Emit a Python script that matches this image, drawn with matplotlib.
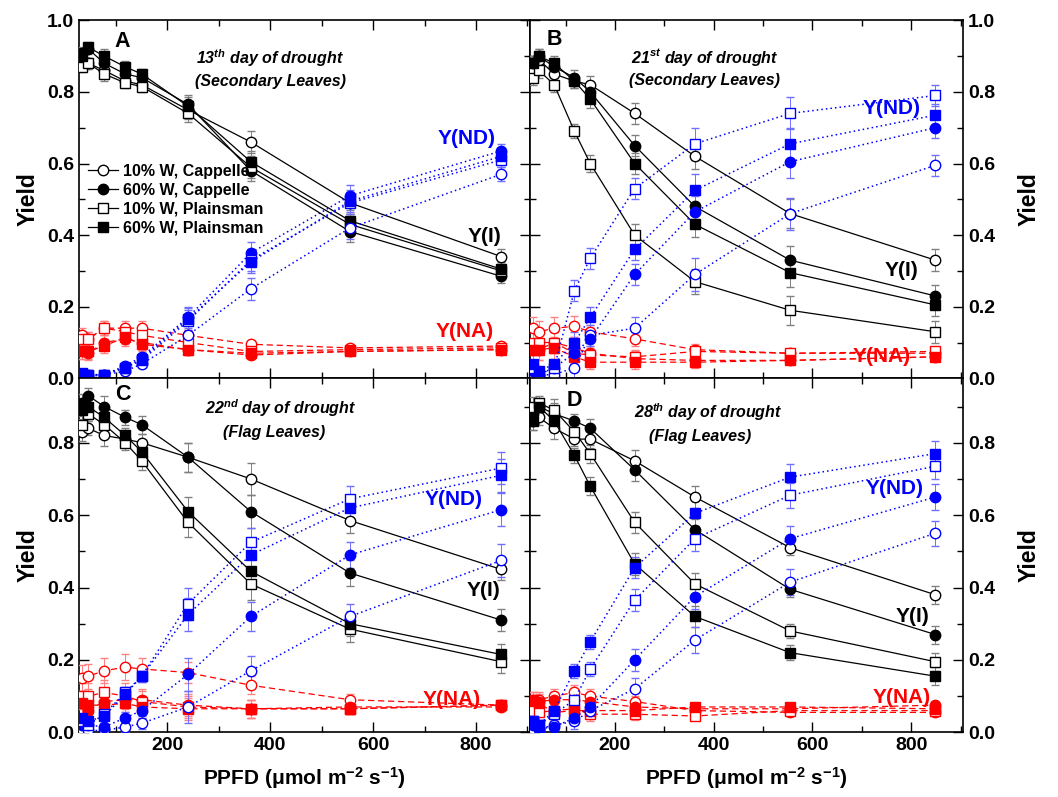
import matplotlib
matplotlib.use("Agg")
import matplotlib.pyplot as plt
from matplotlib.ticker import MultipleLocator

plt.rcParams["font.family"] = ["Liberation Sans", "DejaVu Sans"]
plt.rcParams["font.weight"] = "bold"
plt.rcParams["mathtext.fontset"] = "custom"
plt.rcParams["mathtext.it"] = "Liberation Sans:italic:bold"
plt.rcParams["mathtext.rm"] = "Liberation Sans:bold"
plt.rcParams["mathtext.bf"] = "Liberation Sans:bold"

# PPFD steps (umol m-2 s-1)
ppfd = [34, 46, 77, 118, 150, 240, 362, 555, 849]

series_labels = ["10% W, Cappelle", "60% W, Cappelle", "10% W, Plainsman", "60% W, Plainsman"]

# order of every block: 10% Cappelle, 60% Cappelle, 10% Plainsman, 60% Plainsman
# A: 13th day, secondary leaves
yi_A = [[0.88, 0.88, 0.86, 0.83, 0.82, 0.75, 0.66, 0.49, 0.34],
        [0.91, 0.92, 0.88, 0.85, 0.84, 0.765, 0.58, 0.41, 0.285],
        [0.87, 0.88, 0.85, 0.825, 0.815, 0.74, 0.59, 0.43, 0.30],
        [0.90, 0.925, 0.90, 0.87, 0.85, 0.76, 0.605, 0.44, 0.305]]
ynd_A = [[0.01, 0.01, 0.01, 0.02, 0.04, 0.12, 0.25, 0.42, 0.57],
         [0.01, 0.005, 0.01, 0.035, 0.06, 0.17, 0.35, 0.51, 0.635],
         [0.01, 0.01, 0.01, 0.03, 0.05, 0.16, 0.33, 0.49, 0.61],
         [0.015, 0.01, 0.01, 0.03, 0.055, 0.165, 0.325, 0.495, 0.62]]
yna_A = [[0.12, 0.11, 0.14, 0.14, 0.14, 0.12, 0.095, 0.085, 0.09],
         [0.075, 0.07, 0.10, 0.11, 0.10, 0.08, 0.065, 0.075, 0.08],
         [0.11, 0.11, 0.14, 0.13, 0.12, 0.10, 0.075, 0.08, 0.085],
         [0.075, 0.075, 0.09, 0.115, 0.095, 0.08, 0.07, 0.075, 0.08]]

# B: 21st day, secondary leaves
yi_B = [[0.86, 0.89, 0.85, 0.83, 0.82, 0.74, 0.62, 0.46, 0.33],
        [0.88, 0.90, 0.87, 0.84, 0.80, 0.65, 0.48, 0.33, 0.23],
        [0.84, 0.86, 0.82, 0.69, 0.60, 0.40, 0.27, 0.19, 0.13],
        [0.88, 0.90, 0.88, 0.83, 0.78, 0.60, 0.43, 0.295, 0.205]]
ynd_B = [[0.01, 0.01, 0.01, 0.03, 0.12, 0.14, 0.29, 0.46, 0.595],
         [0.02, 0.01, 0.03, 0.07, 0.11, 0.29, 0.465, 0.605, 0.70],
         [0.03, 0.01, 0.03, 0.245, 0.335, 0.53, 0.655, 0.74, 0.79],
         [0.04, 0.02, 0.04, 0.10, 0.17, 0.36, 0.525, 0.655, 0.735]]
yna_B = [[0.14, 0.13, 0.14, 0.145, 0.13, 0.11, 0.08, 0.07, 0.07],
         [0.08, 0.08, 0.10, 0.085, 0.07, 0.055, 0.05, 0.05, 0.06],
         [0.10, 0.10, 0.10, 0.07, 0.065, 0.06, 0.075, 0.07, 0.075],
         [0.08, 0.08, 0.085, 0.06, 0.045, 0.045, 0.045, 0.05, 0.06]]

# C: 22nd day, flag leaves
yi_C = [[0.83, 0.84, 0.82, 0.81, 0.80, 0.76, 0.70, 0.585, 0.45],
        [0.91, 0.93, 0.90, 0.87, 0.85, 0.76, 0.61, 0.44, 0.31],
        [0.85, 0.88, 0.85, 0.80, 0.75, 0.58, 0.41, 0.285, 0.195],
        [0.89, 0.90, 0.87, 0.82, 0.775, 0.61, 0.445, 0.30, 0.215]]
ynd_C = [[0.01, 0.005, 0.005, 0.015, 0.025, 0.07, 0.17, 0.32, 0.475],
         [0.02, 0.02, 0.015, 0.04, 0.06, 0.16, 0.32, 0.49, 0.615],
         [0.03, 0.02, 0.05, 0.11, 0.155, 0.355, 0.525, 0.645, 0.73],
         [0.04, 0.03, 0.045, 0.105, 0.155, 0.325, 0.49, 0.62, 0.71]]
yna_C = [[0.15, 0.155, 0.17, 0.18, 0.175, 0.165, 0.13, 0.09, 0.075],
         [0.08, 0.06, 0.085, 0.09, 0.09, 0.075, 0.065, 0.07, 0.07],
         [0.10, 0.10, 0.11, 0.10, 0.085, 0.07, 0.065, 0.065, 0.075],
         [0.08, 0.075, 0.075, 0.08, 0.07, 0.065, 0.065, 0.065, 0.075]]

# D: 28th day, flag leaves
yi_D = [[0.86, 0.87, 0.84, 0.81, 0.81, 0.75, 0.65, 0.51, 0.38],
        [0.88, 0.90, 0.88, 0.86, 0.84, 0.725, 0.56, 0.395, 0.27],
        [0.90, 0.91, 0.89, 0.83, 0.77, 0.58, 0.41, 0.28, 0.195],
        [0.86, 0.90, 0.86, 0.765, 0.68, 0.465, 0.32, 0.22, 0.155]]
ynd_D = [[0.01, 0.01, 0.02, 0.03, 0.06, 0.12, 0.255, 0.415, 0.55],
         [0.02, 0.01, 0.015, 0.04, 0.07, 0.20, 0.375, 0.535, 0.65],
         [0.03, 0.02, 0.05, 0.09, 0.175, 0.365, 0.535, 0.655, 0.735],
         [0.03, 0.02, 0.06, 0.17, 0.25, 0.455, 0.605, 0.705, 0.77]]
yna_D = [[0.08, 0.09, 0.10, 0.11, 0.10, 0.085, 0.06, 0.055, 0.055],
         [0.09, 0.085, 0.09, 0.09, 0.085, 0.07, 0.065, 0.065, 0.075],
         [0.06, 0.055, 0.06, 0.065, 0.05, 0.05, 0.045, 0.06, 0.06],
         [0.09, 0.08, 0.055, 0.06, 0.06, 0.06, 0.07, 0.07, 0.065]]

# rough standard errors (shared by the four series of a panel)
err_yi = {"A": [0.015, 0.015, 0.02, 0.015, 0.015, 0.025, 0.03, 0.03, 0.02],
          "B": [0.02, 0.02, 0.02, 0.02, 0.025, 0.03, 0.035, 0.04, 0.03],
          "C": [0.025, 0.02, 0.03, 0.02, 0.025, 0.04, 0.045, 0.035, 0.03],
          "D": [0.025, 0.02, 0.03, 0.02, 0.025, 0.03, 0.03, 0.02, 0.025]}
err_ynd = {"A": [0.005, 0.005, 0.005, 0.01, 0.01, 0.03, 0.03, 0.03, 0.02],
           "B": [0.01, 0.01, 0.01, 0.03, 0.03, 0.03, 0.045, 0.045, 0.03],
           "C": [0.01, 0.01, 0.01, 0.015, 0.015, 0.045, 0.04, 0.035, 0.045],
           "D": [0.01, 0.01, 0.01, 0.02, 0.02, 0.03, 0.035, 0.035, 0.035]}
err_yna = {"A": [0.02, 0.02, 0.02, 0.02, 0.02, 0.015, 0.01, 0.01, 0.01],
           "B": [0.03, 0.03, 0.03, 0.03, 0.02, 0.02, 0.015, 0.01, 0.01],
           "C": [0.035, 0.035, 0.035, 0.035, 0.03, 0.03, 0.025, 0.015, 0.01],
           "D": [0.02, 0.02, 0.02, 0.02, 0.02, 0.015, 0.01, 0.01, 0.01]}

panel_data = {"A": (yi_A, ynd_A, yna_A), "B": (yi_B, ynd_B, yna_B),
              "C": (yi_C, ynd_C, yna_C), "D": (yi_D, ynd_D, yna_D)}

day_titles = {"A": ("13$^{th}$ day of drought", "(Secondary Leaves)"),
              "B": ("21$^{st}$ day of drought", "(Secondary Leaves)"),
              "C": ("22$^{nd}$ day of drought", "(Flag Leaves)"),
              "D": ("28$^{th}$ day of drought", "(Flag Leaves)")}

markers = ["o", "o", "s", "s"]
filled = [False, True, False, True]

fig = plt.figure(figsize=(10.58, 7.97), dpi=100)
W, H = 1058, 797


def px_axes(x0, y0, x1, y1):
    return fig.add_axes([x0 / W, 1 - y1 / H, (x1 - x0) / W, (y1 - y0) / H])


axes = {"A": px_axes(79, 20.3, 530, 378.3),
        "B": px_axes(530, 20.3, 963, 378.3),
        "C": px_axes(79, 378.3, 530, 732.3),
        "D": px_axes(530, 378.3, 963, 732.3)}

# label positions (data coordinates)
txt = {"A": dict(letter=(113, 0.94), t1=(400, 0.895), t2=(400, 0.828),
                 nd=(781, 0.671), i=(816, 0.397), na=(777, 0.13)),
       "B": dict(letter=(77, 0.945), t1=(382, 0.897), t2=(382, 0.833),
                 nd=(761, 0.755), i=(781, 0.302), na=(741, 0.06)),
       "C": dict(letter=(113, 0.932), t1=(420, 0.896), t2=(407, 0.829),
                 nd=(757, 0.642), i=(814, 0.393), na=(753, 0.09)),
       "D": dict(letter=(117, 0.918), t1=(389, 0.885), t2=(372, 0.818),
                 nd=(767, 0.674), i=(802, 0.319), na=(781, 0.095))}

blue = "#0000ff"
red = "#ff0000"

for key, ax in axes.items():
    yi, ynd, yna = panel_data[key]
    groups = [(yna, red, "#ff8080", (0, (5, 3)), err_yna[key], 0.9),
              (yi, "black", "#808080", "-", err_yi[key], 0.9),
              (ynd, blue, "#7070ff", (0, (1, 2)), err_ynd[key], 1.1)]
    for vals, col, ecol, ls, err, lw in groups:
        for k in range(4):
            face = col if filled[k] else "white"
            ax.errorbar(ppfd, vals[k], yerr=err, color=col, ecolor=ecol,
                        elinewidth=0.7, capsize=3, capthick=0.7, linestyle=ls,
                        linewidth=lw, marker=markers[k], markersize=7.5,
                        markerfacecolor=face, markeredgecolor=col,
                        markeredgewidth=1.0, zorder=3)

    ax.set_xlim(28, 905)
    ax.set_ylim(0, 1.0 if key in "AB" else 0.978)
    ax.xaxis.set_major_locator(MultipleLocator(200))
    ax.xaxis.set_minor_locator(MultipleLocator(100))
    ax.yaxis.set_major_locator(MultipleLocator(0.2))
    ax.yaxis.set_minor_locator(MultipleLocator(0.1))
    ax.tick_params(which="both", direction="in", top=True, right=True,
                   labelsize=14, width=1.0)
    ax.tick_params(which="major", length=7)
    ax.tick_params(which="minor", length=4)
    for sp in ax.spines.values():
        sp.set_linewidth(1.2)
    ax.yaxis.set_major_formatter(matplotlib.ticker.FormatStrFormatter("%.1f"))
    if key in "AB":
        ax.tick_params(labelbottom=False)
    if key in "BD":
        ax.tick_params(labelleft=False, labelright=True)
        ax.yaxis.set_label_position("right")
        ax.set_ylabel("Yield", fontsize=16.5, fontweight="bold", rotation=90, labelpad=16)
    else:
        ax.set_ylabel("Yield", fontsize=16.5, fontweight="bold", labelpad=5)
    if key in "CD":
        ax.set_xlabel("PPFD (\u03bcmol m$^{\\mathrm{-2}}$ s$^{\\mathrm{-1}}$)",
                      fontsize=15, fontweight="bold", labelpad=8)

    t = txt[key]
    ax.text(*t["letter"], key, fontsize=15.5, fontweight="bold", ha="center", va="center", zorder=5)
    ax.text(*t["t1"], day_titles[key][0], fontsize=11.5, fontweight="bold",
            style="italic", ha="center", va="center")
    ax.text(*t["t2"], day_titles[key][1], fontsize=11.5, fontweight="bold",
            style="italic", ha="center", va="center")
    ax.text(*t["nd"], "Y(ND)", color=blue, fontsize=15, fontweight="bold", ha="center", va="center")
    ax.text(*t["i"], "Y(I)", color="black", fontsize=15, fontweight="bold", ha="center", va="center")
    ax.text(*t["na"], "Y(NA)", color=red, fontsize=15, fontweight="bold", ha="center", va="center")

# legend in panel A
handles = []
for k in range(4):
    h, = axes["A"].plot([], [], color="black", linewidth=0.9, marker=markers[k],
                        markersize=7.5, markerfacecolor="black" if filled[k] else "white",
                        markeredgecolor="black")
    handles.append(h)
axes["A"].legend(handles, series_labels, loc="upper left",
                 bbox_to_anchor=(88 / W, 1 - 164 / H), bbox_transform=fig.transFigure,
                 frameon=False, fontsize=11.5, handlelength=1.9, handletextpad=0.3,
                 labelspacing=0.25, borderpad=0, borderaxespad=0, numpoints=1)

fig.savefig("out.png", dpi=100)
